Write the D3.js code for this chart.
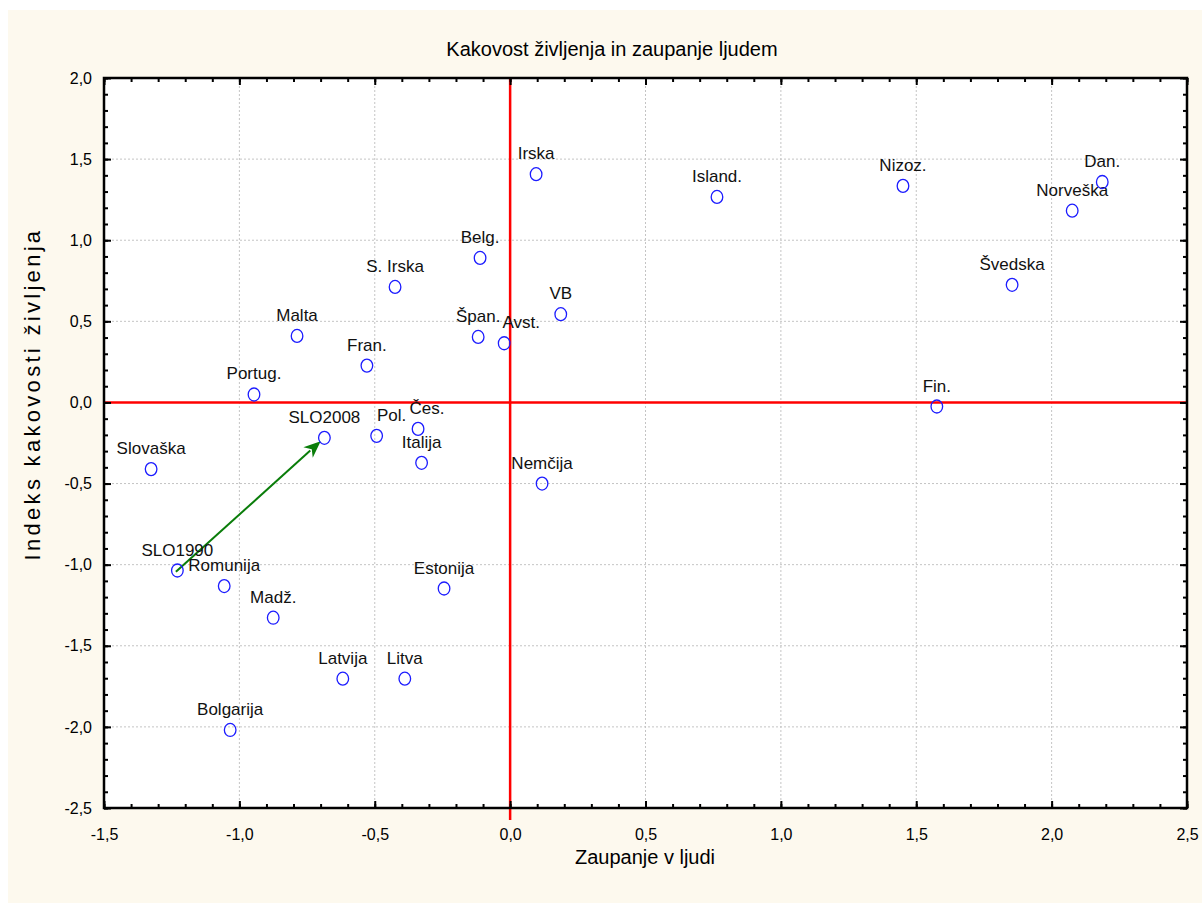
<!DOCTYPE html>
<html>
<head>
<meta charset="utf-8">
<script src="https://cdn.jsdelivr.net/npm/d3@7"></script>
<style>
  html, body { margin: 0; padding: 0; background: #ffffff; }
  svg { display: block; font-family: "Liberation Sans", Arial, sans-serif; }
</style>
</head>
<body>
<svg id="chart" width="1202" height="903"></svg>
<script>
// ---- data ----
const countries = ["Irska","Island.","Nizoz.","Dan.","Norveška","Švedska","Belg.","S. Irska","VB","Špan.","Avst.","Malta","Fran.","Portug.","Fin.","Čes.","Pol.","SLO2008","Italija","Slovaška","Nemčija","SLO1990","Romunija","Estonija","Madž.","Latvija","Litva","Bolgarija"];
const trust =   [0.096, 0.764, 1.451, 2.187, 2.076, 1.854, -0.111, -0.425, 0.187, -0.118, -0.022, -0.787, -0.529, -0.946, 1.576, -0.340, -0.493, -0.686, -0.327, -1.326, 0.118, -1.229, -1.056, -0.244, -0.875, -0.618, -0.389, -1.034];
const quality = [1.407, 1.267, 1.335, 1.359, 1.182, 0.725, 0.891, 0.712, 0.544, 0.404, 0.365, 0.410, 0.227, 0.049, -0.025, -0.163, -0.206, -0.218, -0.372, -0.411, -0.500, -1.036, -1.132, -1.147, -1.327, -1.703, -1.703, -2.019];
const xTicks = [-1.5, -1.0, -0.5, 0.0, 0.5, 1.0, 1.5, 2.0, 2.5];
const yTicks = [-2.5, -2.0, -1.5, -1.0, -0.5, 0.0, 0.5, 1.0, 1.5, 2.0];
const arrowFrom = "SLO1990", arrowTo = "SLO2008";
const titleText = "Kakovost življenja in zaupanje ljudem";
const xTitle = "Zaupanje v ljudi";
const yTitle = "Indeks kakovosti življenja";

// label nudges (layout only)
const labelShift = { "Avst.": 17, "Pol.": 15, "Čes.": 9 };

const svg = d3.select("#chart");
const L = 104, R = 1187, T = 78, B = 808;

svg.append("rect").attr("x", 8).attr("y", 10).attr("width", 1194).attr("height", 893).attr("fill", "#fdf9ee");
svg.append("rect").attr("x", L).attr("y", T).attr("width", R - L).attr("height", B - T).attr("fill", "#ffffff");

const x = d3.scaleLinear().domain([-1.5, 2.5]).range([L, R]);
const y = d3.scaleLinear().domain([-2.5, 2.0]).range([B, T]);
const fmt = v => d3.format(".1f")(v).replace(".", ",").replace("−", "-");

// grid
const grid = svg.append("g").attr("stroke", "#c4c4c4").attr("stroke-width", 1).attr("stroke-dasharray", "2,2");
xTicks.filter(v => v > -1.5 && v < 2.5 && v !== 0).forEach(v => {
  grid.append("line").attr("x1", x(v)).attr("x2", x(v)).attr("y1", T).attr("y2", B);
});
yTicks.filter(v => v > -2.5 && v < 2.0 && v !== 0).forEach(v => {
  grid.append("line").attr("y1", y(v)).attr("y2", y(v)).attr("x1", L).attr("x2", R);
});

// red reference lines
svg.append("line").attr("x1", x(0)).attr("x2", x(0)).attr("y1", T).attr("y2", B + 12)
  .attr("stroke", "#ff0000").attr("stroke-width", 2.5);
svg.append("line").attr("x1", L).attr("x2", R).attr("y1", y(0)).attr("y2", y(0))
  .attr("stroke", "#ff0000").attr("stroke-width", 2.5);

// axes (ticks inward on all sides)
const minorX = d3.range(-15, 26).map(i => i / 10);
const minorY = d3.range(-25, 21).map(i => i / 10);
function axisLayer(axis) {
  return g => {
    g.call(axis);
    g.select(".domain").remove();
    g.selectAll("line").attr("stroke", "#000").attr("stroke-width", 2);
  };
}
// minor ticks
svg.append("g").attr("transform", `translate(0,${B})`).call(axisLayer(d3.axisTop(x).tickValues(minorX).tickSize(4).tickFormat("")));
svg.append("g").attr("transform", `translate(0,${T})`).call(axisLayer(d3.axisBottom(x).tickValues(minorX).tickSize(4).tickFormat("")));
svg.append("g").attr("transform", `translate(${L},0)`).call(axisLayer(d3.axisRight(y).tickValues(minorY).tickSize(4).tickFormat("")));
svg.append("g").attr("transform", `translate(${R},0)`).call(axisLayer(d3.axisLeft(y).tickValues(minorY).tickSize(4).tickFormat("")));
// major ticks
svg.append("g").attr("transform", `translate(0,${B})`).call(axisLayer(d3.axisTop(x).tickValues(xTicks).tickSize(7).tickFormat("")));
svg.append("g").attr("transform", `translate(0,${T})`).call(axisLayer(d3.axisBottom(x).tickValues(xTicks).tickSize(7).tickFormat("")));
svg.append("g").attr("transform", `translate(${L},0)`).call(axisLayer(d3.axisRight(y).tickValues(yTicks).tickSize(7).tickFormat("")));
svg.append("g").attr("transform", `translate(${R},0)`).call(axisLayer(d3.axisLeft(y).tickValues(yTicks).tickSize(7).tickFormat("")));

// tick labels
const xl = svg.append("g").attr("transform", `translate(0,${B})`)
  .call(d3.axisBottom(x).tickValues(xTicks).tickSize(0).tickPadding(21).tickFormat(fmt));
xl.select(".domain").remove();
xl.selectAll("text").attr("font-size", 16).attr("font-family", "Liberation Sans, Arial, sans-serif").attr("fill", "#000");
const yl = svg.append("g").attr("transform", `translate(${L},0)`)
  .call(d3.axisLeft(y).tickValues(yTicks).tickSize(0).tickPadding(12).tickFormat(fmt));
yl.select(".domain").remove();
yl.selectAll("text").attr("font-size", 16).attr("font-family", "Liberation Sans, Arial, sans-serif").attr("fill", "#000");

// frame
svg.append("rect").attr("x", L).attr("y", T).attr("width", R - L).attr("height", B - T)
  .attr("fill", "none").attr("stroke", "#000").attr("stroke-width", 2.5);

// titles
svg.append("text").attr("x", 612).attr("y", 56).attr("text-anchor", "middle")
  .attr("font-size", 20).attr("fill", "#000").text(titleText);
svg.append("text").attr("x", 645).attr("y", 864).attr("text-anchor", "middle")
  .attr("font-size", 20).attr("fill", "#000").text(xTitle);
svg.append("text").attr("transform", "translate(40,394) rotate(-90)").attr("text-anchor", "middle")
  .attr("font-size", 22).attr("letter-spacing", 3.3).attr("fill", "#000").text(yTitle);

// arrow
const iA = countries.indexOf(arrowFrom), iB = countries.indexOf(arrowTo);
const x1 = x(trust[iA]), y1 = y(quality[iA]), x2 = x(trust[iB]), y2 = y(quality[iB]);
const ang = Math.atan2(y2 - y1, x2 - x1);
const tipX = x2 - 5 * Math.cos(ang), tipY = y2 - 5 * Math.sin(ang);
const headLen = 17, headW = 7;
const bx = tipX - headLen * Math.cos(ang), by = tipY - headLen * Math.sin(ang);
svg.append("line").attr("x1", x1 - 2 * Math.cos(ang)).attr("y1", y1 - 2 * Math.sin(ang)).attr("x2", bx + 3 * Math.cos(ang)).attr("y2", by + 3 * Math.sin(ang))
  .attr("stroke", "#0a7d0a").attr("stroke-width", 2);
svg.append("path")
  .attr("d", `M${tipX},${tipY} L${bx - headW * Math.sin(ang)},${by + headW * Math.cos(ang)} L${bx + 5 * Math.cos(ang)},${by + 5 * Math.sin(ang)} L${bx + headW * Math.sin(ang)},${by - headW * Math.cos(ang)} Z`)
  .attr("fill", "#0a7d0a");

// labels
svg.append("g").selectAll("text").data(countries).join("text")
  .attr("x", (d, i) => x(trust[i]) + (labelShift[d] || 0))
  .attr("y", (d, i) => y(quality[i]) - 15)
  .attr("text-anchor", "middle").attr("font-size", 17).attr("fill", "#111")
  .text(d => d);

// points
svg.append("g").selectAll("ellipse").data(countries).join("ellipse")
  .attr("cx", (d, i) => x(trust[i])).attr("cy", (d, i) => y(quality[i]))
  .attr("rx", 5.8).attr("ry", 6.5)
  .attr("fill", "none").attr("stroke", "#1c1cff").attr("stroke-width", 1.3);
</script>
</body>
</html>
